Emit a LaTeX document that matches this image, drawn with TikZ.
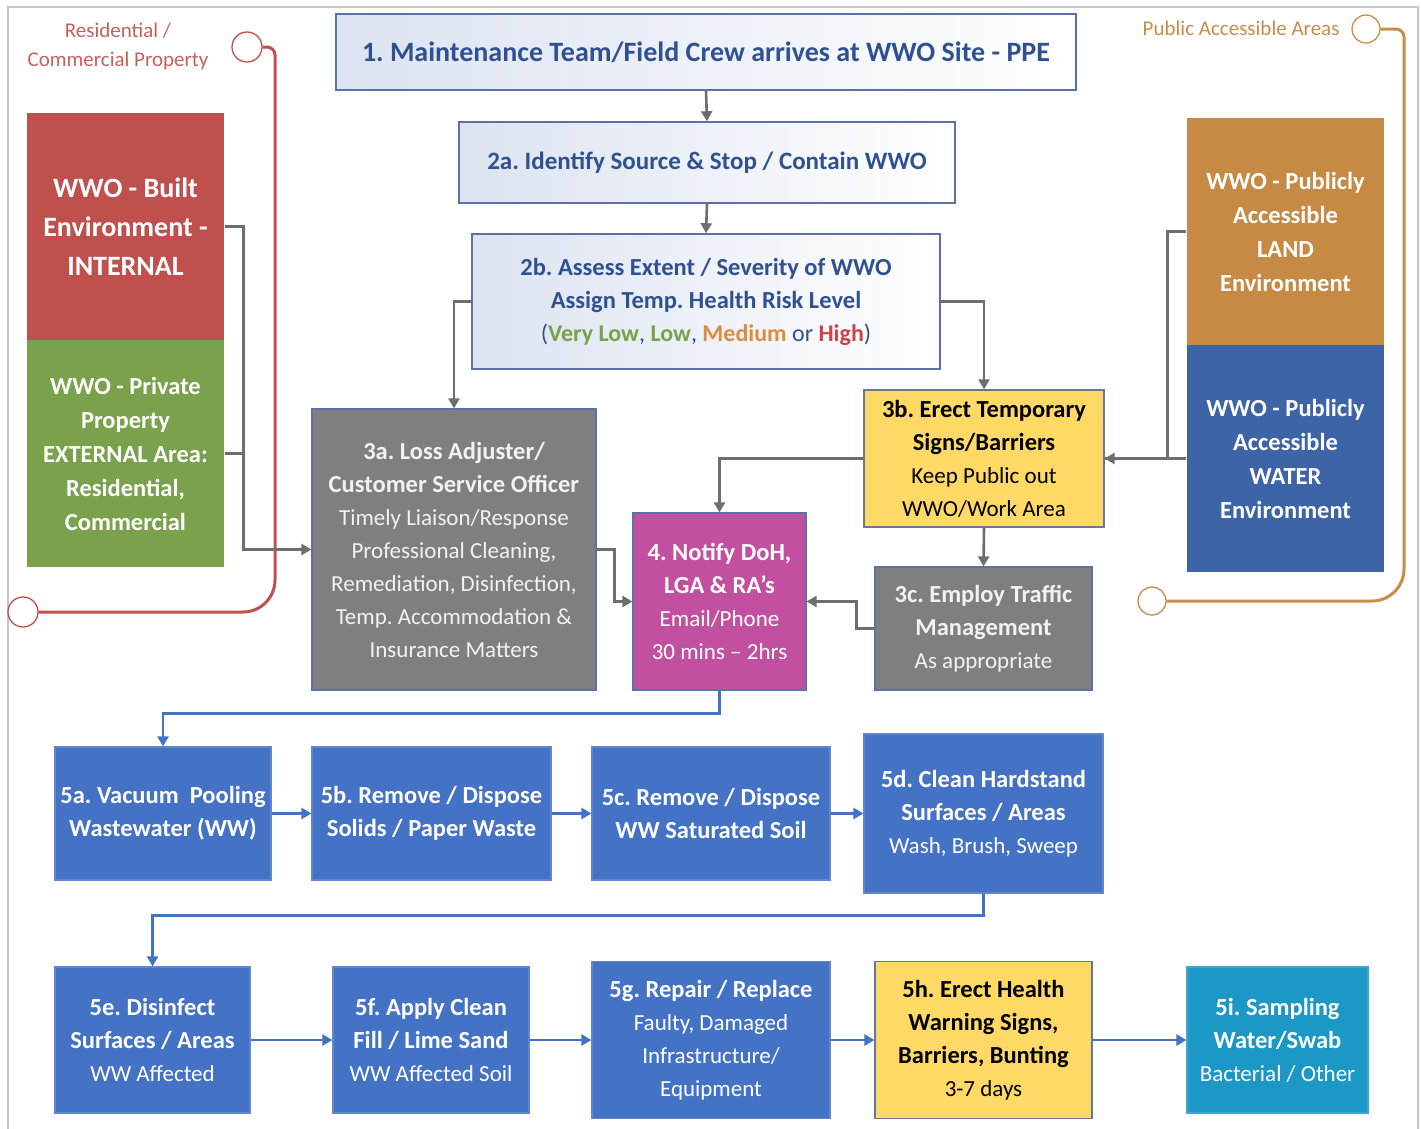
\documentclass[tikz,border=0pt]{standalone}
\usepackage{fontspec}
\setmainfont{Carlito}
\usetikzlibrary{arrows.meta,calc}
\definecolor{cred}{HTML}{C0504D}
\definecolor{cgreen}{HTML}{7AA24C}
\definecolor{cgrey}{HTML}{7F7F7F}
\definecolor{cmag}{HTML}{C24F9F}
\definecolor{cyel}{HTML}{FFD966}
\definecolor{cland}{HTML}{C68A44}
\definecolor{cwater}{HTML}{3E64A8}
\definecolor{cblue}{HTML}{4472C4}
\definecolor{cteal}{HTML}{1C98C7}
\definecolor{carr}{HTML}{6E6E6E}
\definecolor{ctxt}{HTML}{2F5191}
\definecolor{cbord}{HTML}{5A72A6}
\definecolor{cgrad}{HTML}{DCE3F1}
\definecolor{corange}{HTML}{C98D4A}
\definecolor{cvl}{HTML}{77A24A}
\definecolor{cmed}{HTML}{DD8C3C}
\definecolor{chigh}{HTML}{D0424A}
\newcommand{\hd}[1]{{\fontsize{24.5}{33}\selectfont\bfseries #1}}
\tikzset{
  base/.style={rectangle, inner sep=0pt, align=center, font=\fontsize{23}{33}\selectfont, line width=1.2pt},
  gradbox/.style={base, draw=cbord, left color=cgrad, right color=white, text=ctxt, line width=1.6pt},
  side/.style={base, text=white, font=\bfseries\fontsize{24.5}{34}\selectfont, draw=none},
  greybox/.style={base, fill=cgrey, draw=cbord, text=white!95!black},
  magbox/.style={base, fill=cmag, draw=cbord, text=white},
  yelbox/.style={base, fill=cyel, draw=cbord!60!gray, text=black},
  bluebox/.style={base, fill=cblue, draw=cblue!85!white, text=white},
  tealbox/.style={base, fill=cteal, draw=cteal!85!white, text=white},
  garr/.style={draw=carr, line width=2.6pt, -{Triangle[width=11pt,length=10pt]}},
  gline/.style={draw=carr, line width=2.6pt},
  barr/.style={draw=cblue, line width=2.6pt, -{Triangle[width=11pt,length=10pt]}},
  ring/.style={circle, draw, fill=white, minimum size=30pt, inner sep=0pt, line width=1.3pt},
  callout/.style={line width=3pt},
}
\begin{document}
\frenchspacing
\begin{tikzpicture}[x=1pt,y=-1pt]
\useasboundingbox (0,0) rectangle (1421,1128);
\fill[white] (0,0) rectangle (1421,1128);
% frame
\draw[gray!45, line width=1.5pt] (8,1140) -- (8,7) -- (1418,7) -- (1418,1140);

% top chain
\node[gradbox, minimum width=740pt, minimum height=76pt, font=\bfseries\fontsize{28}{32}\selectfont] (b1) at (706,52)
  {1. Maintenance Team/Field Crew arrives at WWO Site - PPE};
\node[gradbox, minimum width=496pt, minimum height=81pt, font=\bfseries\fontsize{25}{32}\selectfont] (b2a) at (707,162.5)
  {2a. Identify Source \& Stop / Contain WWO};
\node[gradbox, minimum width=468pt, minimum height=135pt] (b2b) at (706,301.5)
  {\hd{2b. Assess Extent / Severity of WWO}\\
   \hd{Assign Temp. Health Risk Level}\\
   {\fontsize{24}{33}\selectfont(\textbf{\textcolor{cvl}{Very Low}}, \textbf{\textcolor{cvl}{Low}}, \textbf{\textcolor{cmed}{Medium}} or \textbf{\textcolor{chigh}{High}})}};

% left side
\node[side, fill=cred, minimum width=197pt, minimum height=227pt, font=\bfseries\fontsize{28}{39}\selectfont] (built) at (125.5,226.5)
  {WWO - Built\\Environment -\\INTERNAL};
\node[side, fill=cgreen, minimum width=197pt, minimum height=227pt] (priv) at (125.5,453.5)
  {WWO - Private\\Property\\EXTERNAL Area:\\Residential,\\Commercial};

% right side
\node[side, fill=cland, minimum width=197pt, minimum height=227pt] (land) at (1285.5,231.5)
  {WWO - Publicly\\Accessible\\LAND\\Environment};
\node[side, fill=cwater, minimum width=197pt, minimum height=227pt] (water) at (1285.5,458.5)
  {WWO - Publicly\\Accessible\\WATER\\Environment};

% middle
\node[greybox, minimum width=284pt, minimum height=281pt] (b3a) at (454,549.5)
  {\hd{3a. Loss Adjuster/}\\\hd{Customer Service Officer}\\Timely Liaison/Response\\Professional Cleaning,\\Remediation, Disinfection,\\Temp. Accommodation \&\\Insurance Matters};
\node[magbox, minimum width=173pt, minimum height=177pt] (b4) at (719.5,601.5)
  {\hd{4. Notify DoH,}\\\hd{LGA \& RA’s}\\Email/Phone\\30 mins – 2hrs};
\node[yelbox, minimum width=240pt, minimum height=137pt] (b3b) at (984,458.5)
  {\hd{3b. Erect Temporary}\\\hd{Signs/Barriers}\\Keep Public out\\WWO/Work Area};
\node[greybox, minimum width=217pt, minimum height=123pt] (b3c) at (983.5,628.5)
  {\hd{3c. Employ Traffic}\\\hd{Management}\\As appropriate};

% row 5a-5d
\node[bluebox, minimum width=216pt, minimum height=133pt] (b5a) at (163,813.5)
  {\hd{5a. Vacuum \ Pooling}\\\hd{Wastewater (WW)}};
\node[bluebox, minimum width=239pt, minimum height=133pt] (b5b) at (431.5,813.5)
  {\hd{5b. Remove / Dispose}\\\hd{Solids / Paper Waste}};
\node[bluebox, minimum width=238pt, minimum height=133pt] (b5c) at (711,813.5)
  {\hd{5c. Remove / Dispose}\\\hd{WW Saturated Soil}};
\node[bluebox, minimum width=239pt, minimum height=159pt] (b5d) at (983.5,813.5)
  {\hd{5d. Clean Hardstand}\\\hd{Surfaces / Areas}\\Wash, Brush, Sweep};

% row 5e-5i
\node[bluebox, minimum width=195pt, minimum height=146pt] (b5e) at (152.5,1040)
  {\hd{5e. Disinfect}\\\hd{Surfaces / Areas}\\WW Affected};
\node[bluebox, minimum width=196pt, minimum height=146pt] (b5f) at (431,1040)
  {\hd{5f. Apply Clean}\\\hd{Fill / Lime Sand}\\WW Affected Soil};
\node[bluebox, minimum width=238pt, minimum height=157pt] (b5g) at (711,1040)
  {\hd{5g. Repair / Replace}\\Faulty, Damaged\\Infrastructure/\\Equipment};
\node[yelbox, minimum width=217pt, minimum height=157pt] (b5h) at (983.5,1040)
  {\hd{5h. Erect Health}\\\hd{Warning Signs,}\\\hd{Barriers, Bunting}\\3-7 days};
\node[tealbox, minimum width=181pt, minimum height=146pt] (b5i) at (1277.5,1040)
  {\hd{5i. Sampling}\\\hd{Water/Swab}\\Bacterial / Other};

% callouts
\node[text=cred!90!white, align=center, font=\fontsize{21}{29}\selectfont] (tres) at (118,46.5)
  {Residential /\\Commercial Property};
\node[ring, draw=cred] (r1) at (247,47) {};
\node[ring, draw=cred] (r2) at (23,612) {};
\draw[cred, callout, rounded corners=8pt] (r1.east) -- (275,47) [rounded corners=32pt] -- (275,612) -- (r2.east);

\node[text=corange, anchor=east, font=\fontsize{21}{26}\selectfont] (tpub) at (1343,28) {Public Accessible Areas};
\node[ring, draw=corange, minimum size=28pt] (r3) at (1366,29) {};
\node[ring, draw=corange, minimum size=28pt] (r4) at (1152,601) {};
\draw[corange, callout, rounded corners=8pt] (r3.east) -- (1404,29) [rounded corners=32pt] -- (1404,601) -- (r4.east);

% grey connectors
\draw[garr] (b1.south) -- (b2a.north);
\draw[garr] (b2a.south) -- (b2b.north);
\draw[garr] (b2b.west) -| (b3a.north);
\draw[garr] (b2b.east) -| (b3b.north);
\draw[garr] (built.east) -- ++(19,0) |- (b3a.west);
\draw[gline] (priv.east) -- ++(19,0);
\draw[garr] (b3a.east) -- ++(18,0) |- (b4.west);
\draw[garr] (b3b.west) -| (b4.north);
\draw[garr] (b3b.south) -- (b3c.north);
\draw[garr] (b3c.west) -- ++(-18,0) |- (b4.east);
\draw[garr] (land.west) -- ++(-19,0) |- (b3b.east);
\draw[gline] (water.west) -- (b3b.east);

% blue connectors
\draw[barr] (b4.south) -- ++(0,23) -| (b5a.north);
\draw[barr] (b5a.east) -- (b5b.west);
\draw[barr] (b5b.east) -- (b5c.west);
\draw[barr] (b5c.east) -- (b5d.west);
\draw[barr] (b5d.south) -- ++(0,22) -| (b5e.north);
\draw[barr] (b5e.east) -- (b5f.west);
\draw[barr] (b5f.east) -- (b5g.west);
\draw[barr] (b5g.east) -- (b5h.west);
\draw[barr] (b5h.east) -- (b5i.west);
\end{tikzpicture}
\end{document}
